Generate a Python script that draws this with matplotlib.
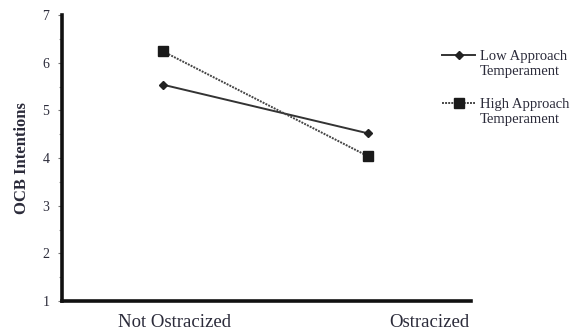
import matplotlib
matplotlib.use("Agg")
import matplotlib.pyplot as plt
from matplotlib.ticker import MultipleLocator

conditions = ["Not Ostracized", "Ostracized"]
low_approach = [5.54, 4.52]
high_approach = [6.24, 4.04]
series_names = ["Low Approach", "High Approach"]
series_suffix = "Temperament"
y_ticks = [1, 2, 3, 4, 5, 6, 7]

plt.rcParams["font.family"] = ["Liberation Serif", "DejaVu Serif"]
text_color = "#2b2b3a"

fig = plt.figure(figsize=(5.79, 3.29), dpi=100)
ax = fig.add_axes([0.107, 0.085, 0.706, 0.869])

x = list(range(len(conditions)))
ax.plot(x, low_approach, color="#333333", lw=1.4, marker="D", ms=4,
        mfc="#222222", mec="#222222", label=series_names[0])
ax.plot(x, high_approach, color="#444444", lw=1.4, ls=(0, (1, 0.6)),
        marker="s", ms=7, mfc="#1a1a1a", mec="#1a1a1a", label=series_names[1])

ax.set_xlim(-0.493, 1.502)
ax.set_ylim(1, 7)
ax.set_yticks(y_ticks)
ax.yaxis.set_minor_locator(MultipleLocator(0.5))
ax.tick_params(axis="y", which="major", length=3, width=0.8, color="#777777",
               labelsize=10, labelcolor=text_color, pad=6)
ax.tick_params(axis="y", which="minor", length=2, width=0.8, color="#999999")

ax.set_xticks([0.055, 1.298])
ax.set_xticklabels(conditions)
ax.tick_params(axis="x", length=0, labelsize=13.5, labelcolor=text_color, pad=9)

for side in ["top", "right"]:
    ax.spines[side].set_visible(False)
for side in ["left", "bottom"]:
    ax.spines[side].set_linewidth(2.6)
    ax.spines[side].set_color("#111111")

ax.set_ylabel("OCB Intentions", fontsize=12, fontweight="bold",
              color=text_color, labelpad=9)

# legend: handle sits on the first line, second line hangs below it
leg = fig.legend(loc="upper left", bbox_to_anchor=(0.763, 0.848), frameon=False,
                 fontsize=10.5, handlelength=2.3, handletextpad=0.35,
                 labelspacing=2.4, borderpad=0, borderaxespad=0,
                 labelcolor=text_color)
fig.canvas.draw()
inv = fig.transFigure.inverted()
for t in leg.get_texts():
    bb = t.get_window_extent()
    x0, y0 = inv.transform((bb.x0, bb.y0))
    fig.text(x0 - 0.001, y0 - 0.006, series_suffix, fontsize=10.5,
             color=text_color, ha="left", va="top")

fig.savefig("out.png", dpi=100)
